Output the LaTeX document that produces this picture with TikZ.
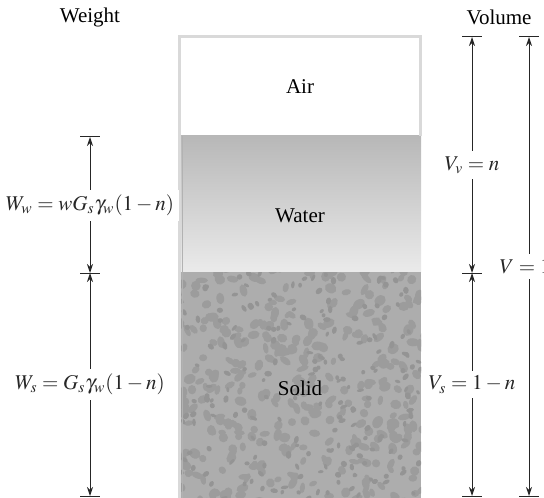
\documentclass[tikz,border=0pt]{standalone}
\usepackage{mathptmx}
\usepackage{fontspec}
\setmainfont{Liberation Serif}
\usetikzlibrary{arrows.meta,calc}

\begin{document}
\begin{tikzpicture}[x=0.5pt,y=-0.5pt,>={Stealth[length=4.5pt,width=3pt]},
  font=\fontsize{10.5}{13}\selectfont,
  dim/.style={<->,line width=0.5pt,black!85},
  tick/.style={line width=0.5pt,black!85},
  lbl/.style={fill=white,inner sep=2.5pt},
  blob/.style={fill=black!39},
  core/.style={fill=black!42}]
\useasboundingbox (0,0) rectangle (544,497);
% ---------------- soil column
\coordinate (ctop) at (178,36);
\coordinate (caw) at (421,136);
\coordinate (cws) at (178,272);
\coordinate (cbot) at (421,504);
\fill[white] (ctop) rectangle (caw);
\shade[top color=black!28,bottom color=black!8] (178,136) rectangle (421,272);
\fill[black!32] (cws) rectangle (cbot);
\begin{scope}
  \clip (cws) rectangle (cbot);
  \pgfmathsetseed{11}
  \foreach \k in {1,...,340}
    \fill[blob] ({178+246*rnd},{268+240*rnd})
      ellipse [x radius={3.5+3*rnd}, y radius={2.5+2.5*rnd}, rotate={180*rnd}];
  \pgfmathsetseed{23}
  \foreach \k in {1,...,205}
    \fill[core] ({178+246*rnd},{268+240*rnd})
      ellipse [x radius={2+2*rnd}, y radius={1.5+1.5*rnd}, rotate={180*rnd}];
\end{scope}
\draw[black!15,line width=1.5pt] (179.5,504) -- (179.5,37) -- (420,37) -- (420,136);
\draw[black!30,line width=0.4pt] (182,504) -- (182,136);
\node (air) at (300,87) {Air};
\node (water) at (300,216) {Water};
\node (solid) at (300,388) {Solid};
% ---------------- headings
\node (weight) at (90,17) {Weight};
\node (volume) at (499,17) {Volume};
% ---------------- weight side
\coordinate (wt) at (90,137);
\coordinate (wm) at (90,273);
\coordinate (wb) at (90,496);
\draw[dim] (wt) -- node[lbl] {$W_w = wG_s\gamma_w(1-n)$} (wm);
\draw[dim] (wm) -- node[lbl] {$W_s = G_s\gamma_w(1-n)$} (wb);
% ---------------- volume side
\coordinate (vt) at (472,37);
\coordinate (vm) at (472,273);
\coordinate (vb) at (472,496);
\coordinate (at) at (529,37);
\coordinate (ab) at (529,496);
\draw[dim] (vt) -- node[lbl,yshift=-5pt] {$V_v = n$} (vm);
\draw[dim] (vm) -- node[lbl] {$V_s = 1-n$} (vb);
\draw[dim] (at) -- node[lbl,xshift=-2pt] {$V = 1$} (ab);
\foreach \c in {wt,wm,wb,vt,vm,vb,at,ab}
  \draw[tick] ([xshift=-5pt]\c) -- ([xshift=5pt]\c);
\end{tikzpicture}
\end{document}
